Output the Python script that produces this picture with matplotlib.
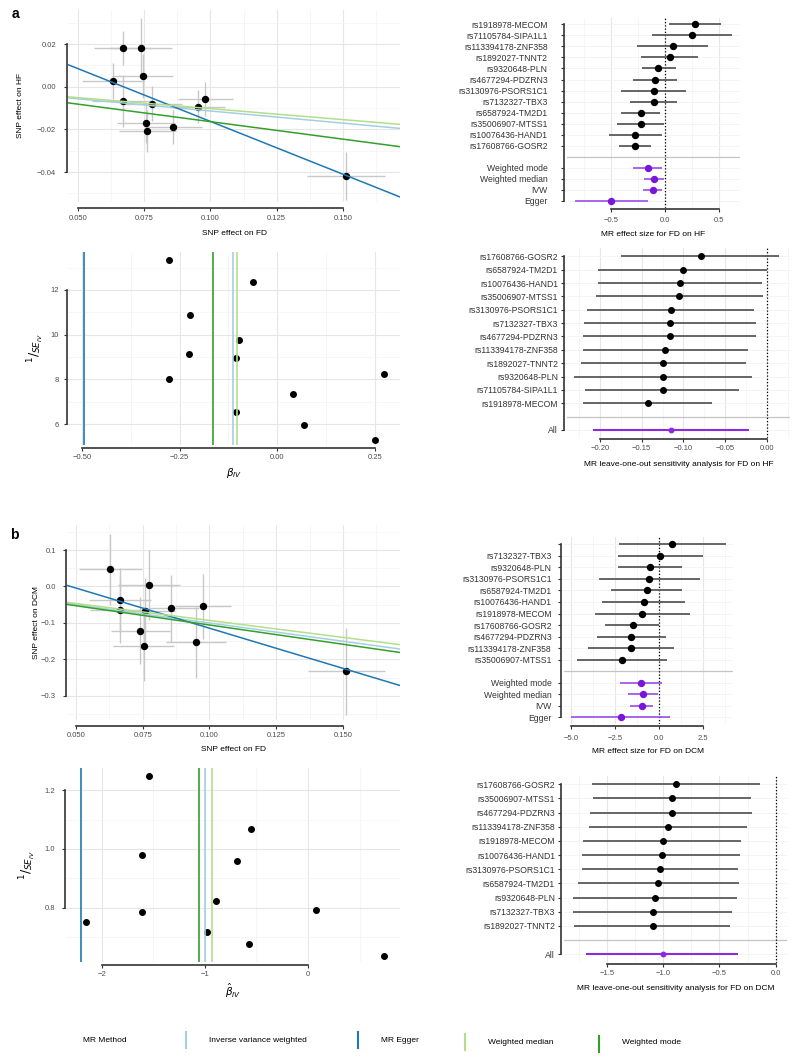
import numpy as np
import matplotlib
matplotlib.use("Agg")
import matplotlib.pyplot as plt
from matplotlib.lines import Line2D

plt.rcParams['font.family'] = ['Liberation Sans', 'DejaVu Sans']
plt.rcParams['mathtext.fontset'] = 'dejavusans'

# method colours (Paired palette)
C_IVW, C_EGG, C_WMED, C_WMODE = '#A6CEE3', '#1F78B4', '#B2DF8A', '#33A02C'
P_LINE, P_DOT = '#9B4BEA', '#7B16D9'

# ---------------- panel a : FD -> HF ----------------
fd_a = [0.0668, 0.0736, 0.0744, 0.0632, 0.0668, 0.0779, 0.0756, 0.0761, 0.0860, 0.0952, 0.0980, 0.1512]
hf_a = [0.0183, 0.0183, 0.0050, 0.0027, -0.0067, -0.0080, -0.0169, -0.0208, -0.0190, -0.0094, -0.0059, -0.0419]
fd_err_a = [0.0108, 0.0119, 0.0114, 0.0116, 0.0114, 0.0114, 0.0110, 0.0108, 0.0108, 0.0102, 0.0104, 0.0146]
hf_err_a = [0.0080, 0.0137, 0.0102, 0.0086, 0.0120, 0.0083, 0.0094, 0.0097, 0.0080, 0.0078, 0.0080, 0.0113]
slope_a = {'ivw': -0.114, 'egger': -0.495, 'wmed': -0.103, 'wmode': -0.164}
egger_int_a = 0.0332

# funnel a
biv_a = [-0.278, -0.062, -0.224, -0.099, -0.227, -0.105, -0.277, 0.272, 0.039, -0.105, 0.067, 0.250]
inv_se_a = [13.34, 12.37, 10.88, 9.78, 9.12, 8.96, 8.00, 8.22, 7.34, 6.55, 5.96, 5.28]

# forest a
snp_a = ['rs1918978-MECOM', 'rs71105784-SIPA1L1', 'rs113394178-ZNF358', 'rs1892027-TNNT2',
         'rs9320648-PLN', 'rs4677294-PDZRN3', 'rs3130976-PSORS1C1', 'rs7132327-TBX3',
         'rs6587924-TM2D1', 'rs35006907-MTSS1', 'rs10076436-HAND1', 'rs17608766-GOSR2']
est_a = [0.273, 0.252, 0.071, 0.043, -0.061, -0.095, -0.101, -0.101, -0.221, -0.224, -0.273, -0.273]
lo_a = [0.040, -0.120, -0.260, -0.224, -0.215, -0.294, -0.402, -0.322, -0.402, -0.439, -0.515, -0.420]
hi_a = [0.512, 0.620, 0.400, 0.307, 0.098, 0.107, 0.196, 0.113, -0.043, -0.009, -0.031, -0.132]
meth = ['Weighted mode', 'Weighted median', 'IVW', 'Egger']
m_est_a = [-0.160, -0.101, -0.110, -0.494]
m_lo_a = [-0.294, -0.193, -0.205, -0.834]
m_hi_a = [-0.031, -0.012, -0.025, -0.153]

# leave-one-out a
loo_snp_a = ['rs17608766-GOSR2', 'rs6587924-TM2D1', 'rs10076436-HAND1', 'rs35006907-MTSS1',
             'rs3130976-PSORS1C1', 'rs7132327-TBX3', 'rs4677294-PDZRN3', 'rs113394178-ZNF358',
             'rs1892027-TNNT2', 'rs9320648-PLN', 'rs71105784-SIPA1L1', 'rs1918978-MECOM']
loo_est_a = [-0.079, -0.100, -0.104, -0.105, -0.115, -0.116, -0.116, -0.122, -0.124, -0.124, -0.125, -0.143]
loo_lo_a = [-0.175, -0.202, -0.202, -0.205, -0.216, -0.219, -0.220, -0.220, -0.223, -0.231, -0.218, -0.220]
loo_hi_a = [0.015, 0.000, -0.006, -0.004, -0.015, -0.013, -0.013, -0.023, -0.025, -0.018, -0.033, -0.066]
all_a = (-0.115, -0.209, -0.021)

# ---------------- panel b : FD -> DCM ----------------
fd_b = [0.0629, 0.0664, 0.0664, 0.0759, 0.0775, 0.0856, 0.0975, 0.0741, 0.0753, 0.0949, 0.1512]
dcm_b = [0.047, -0.038, -0.064, -0.068, 0.0045, -0.060, -0.0545, -0.121, -0.162, -0.153, -0.232]
fd_err_b = [0.0117, 0.0117, 0.0113, 0.0113, 0.0116, 0.0106, 0.0104, 0.0110, 0.0113, 0.0113, 0.0144]
dcm_err_b = [0.098, 0.090, 0.090, 0.090, 0.096, 0.091, 0.089, 0.091, 0.097, 0.097, 0.119]
slope_b = {'ivw': -1.00, 'egger': -2.20, 'wmed': -0.93, 'wmode': -1.055}
egger_int_b = 0.1057

biv_b = [-1.542, -0.552, -1.613, -0.694, -0.894, -1.616, 0.074, -2.152, -0.977, -0.571, 0.742]
inv_se_b = [1.246, 1.069, 0.981, 0.958, 0.824, 0.788, 0.793, 0.754, 0.719, 0.677, 0.636]

snp_b = ['', 'rs7132327-TBX3', 'rs9320648-PLN', 'rs3130976-PSORS1C1', 'rs6587924-TM2D1',
         'rs10076436-HAND1', 'rs1918978-MECOM', 'rs17608766-GOSR2', 'rs4677294-PDZRN3',
         'rs113394178-ZNF358', 'rs35006907-MTSS1']
est_b = [0.75, 0.075, -0.53, -0.545, -0.68, -0.865, -0.96, -1.50, -1.58, -1.60, -2.12]
lo_b = [-2.29, -2.35, -2.35, -3.40, -2.71, -3.23, -3.65, -3.06, -3.55, -4.02, -4.68]
hi_b = [3.78, 2.52, 1.28, 2.31, 1.33, 1.47, 1.75, 0.02, 0.376, 0.846, 0.45]
m_est_b = [-1.03, -0.90, -0.96, -2.16]
m_lo_b = [-2.20, -1.77, -1.64, -4.98]
m_hi_b = [0.15, -0.04, -0.32, 0.62]

loo_snp_b = ['rs17608766-GOSR2', 'rs35006907-MTSS1', 'rs4677294-PDZRN3', 'rs113394178-ZNF358',
             'rs1918978-MECOM', 'rs10076436-HAND1', 'rs3130976-PSORS1C1', 'rs6587924-TM2D1',
             'rs9320648-PLN', 'rs7132327-TBX3', 'rs1892027-TNNT2']
loo_est_b = [-0.882, -0.920, -0.923, -0.953, -1.003, -1.012, -1.027, -1.041, -1.071, -1.092, -1.092]
loo_lo_b = [-1.627, -1.624, -1.645, -1.657, -1.707, -1.722, -1.722, -1.751, -1.799, -1.796, -1.787]
loo_hi_b = [-0.139, -0.222, -0.210, -0.257, -0.311, -0.314, -0.334, -0.328, -0.346, -0.391, -0.405]
all_b = (-1.003, -1.683, -0.331)

W, H = 800, 1063
fig = plt.figure(figsize=(W / 100, H / 100), dpi=100)


def px_axes(l, t, r, b):
    return fig.add_axes([l / W, 1 - b / H, (r - l) / W, (b - t) / H])


def fmt(v, d):
    s = f'{v:.{d}f}'
    return s.replace('-', '\u2212')


def style(ax, xt, xmin, xd, yt=None, ymin=None, yd=None, xoff=3, yoff=1, xpad=2, ypad=2):
    ax.set_xticks(xt)
    ax.set_xticks(xmin, minor=True)
    ax.set_xticklabels([fmt(v, xd) for v in xt])
    if yt is not None:
        ax.set_yticks(yt)
        ax.set_yticks(ymin, minor=True)
        ax.set_yticklabels([fmt(v, yd) for v in yt])
        ax.spines['left'].set_bounds(yt[0], yt[-1])
    ax.grid(True, which='major', color='#E6E6E6', lw=0.8)
    ax.grid(True, which='minor', color='#F3F3F3', lw=0.5)
    ax.set_axisbelow(True)
    ax.tick_params(which='minor', length=0)
    ax.tick_params(which='major', length=2.5, width=0.8, color='#333333',
                   labelsize=5.5, labelcolor='#4D4D4D')
    ax.tick_params(axis='x', pad=xpad)
    ax.tick_params(axis='y', pad=ypad)
    for s in ('top', 'right'):
        ax.spines[s].set_visible(False)
    for s in ('left', 'bottom'):
        ax.spines[s].set_linewidth(1.2)
        ax.spines[s].set_color('#333333')
    ax.spines['left'].set_position(('outward', yoff))
    ax.spines['bottom'].set_position(('outward', xoff))
    ax.spines['bottom'].set_bounds(xt[0], xt[-1])


def scatter_panel(ax, x, y, xe, ye, slopes, eint, xlim, ylim, yt, ymin, yd, ylabel,
                  xpad, ypad, xlpad, ylx):
    ax.errorbar(x, y, xerr=xe, yerr=ye, fmt='none', ecolor='#C8C8C8', elinewidth=1.0, capsize=0, zorder=2)
    ax.plot(x, y, 'o', color='black', ms=4.3, zorder=3)
    xx = np.array(xlim)
    ax.plot(xx, slopes['ivw'] * xx, color=C_IVW, lw=1.1, zorder=4)
    ax.plot(xx, eint + slopes['egger'] * xx, color=C_EGG, lw=1.1, zorder=4)
    ax.plot(xx, slopes['wmed'] * xx, color=C_WMED, lw=1.1, zorder=4)
    ax.plot(xx, slopes['wmode'] * xx, color=C_WMODE, lw=1.1, zorder=4)
    style(ax, [0.05, 0.075, 0.1, 0.125, 0.15], [0.0625, 0.0875, 0.1125, 0.1375, 0.1625], 3,
          yt, ymin, yd, xoff=4, yoff=1, xpad=xpad, ypad=ypad)
    ax.set_xlim(xlim)
    ax.set_ylim(ylim)
    ax.set_xlabel('SNP effect on FD', fontsize=6, labelpad=xlpad)
    ax.set_ylabel(ylabel, fontsize=6)
    ax.yaxis.set_label_coords(ylx, 0.5)


def funnel_panel(ax, bx, iy, slopes, xlim, ylim, xt, xmin, xd, yt, ymin, yd, xlabel,
                 xpad, ypad, xlpad, ylx):
    ax.plot(bx, iy, 'o', color='black', ms=4.0, zorder=3)
    for k, c in (('ivw', C_IVW), ('egger', C_EGG), ('wmed', C_WMED), ('wmode', C_WMODE)):
        ax.axvline(slopes[k], color=c, lw=1.2, zorder=4)
    style(ax, xt, xmin, xd, yt, ymin, yd, xoff=2, yoff=1, xpad=xpad, ypad=ypad)
    ax.set_xlim(xlim)
    ax.set_ylim(ylim)
    ax.set_xlabel(xlabel, fontsize=7.5, labelpad=xlpad)
    ax.set_ylabel(r'$^{1}/_{SE_{IV}}$', fontsize=9)
    ax.yaxis.set_label_coords(ylx, 0.5)


def forest_panel(ax, labels, est, lo, hi, mlabels, mest, mlo, mhi, xlim, xt, xmin, xd, xlabel,
                 xpad, ypad, xlpad, loo=False):
    n, m = len(labels), len(mlabels)
    total = n + 1 + m
    ys = np.arange(total, m + 1, -1)
    ym = np.arange(m, 0, -1)
    ax.axhline(m + 1, color='#C4C4C4', lw=0.9, zorder=1)
    ax.axvline(0, color='black', lw=0.9, ls=(0, (1, 1.6)), zorder=2)
    ax.hlines(ys, lo, hi, color='#5A5A5A', lw=1.3, zorder=3)
    ax.plot(est, ys, 'o', color='black', ms=4.3 if not loo else 4.0, zorder=4)
    if loo:
        ax.hlines(ym, mlo, mhi, color='#8A2BE2', lw=1.5, zorder=3)
        ax.plot(mest, ym, 'o', color='#8A2BE2', ms=3.2, zorder=4)
    else:
        ax.hlines(ym, mlo, mhi, color=P_LINE, lw=1.2, zorder=3)
        ax.plot(mest, ym, 'o', color=P_DOT, ms=4.3, zorder=4)
    style(ax, xt, xmin, xd, xoff=1, yoff=2.5, xpad=xpad, ypad=ypad)
    ax.grid(True, axis='y', which='major', color='#F2F2F2', lw=0.6)
    yt = list(ys) + list(ym)
    ax.set_yticks(yt)
    ax.set_yticklabels(list(labels) + list(mlabels), fontsize=6.2, color='#333333')
    ax.tick_params(axis='y', which='major', labelsize=6.2, labelcolor='#333333')
    ax.spines['left'].set_bounds(1, total)
    ax.set_ylim(0.4, total + 0.6)
    ax.set_xlim(xlim)
    ax.set_xlabel(xlabel, fontsize=6, labelpad=xlpad)


# ---- panel a ----
ax = px_axes(68, 10, 400, 202)
scatter_panel(ax, fd_a, hf_a, fd_err_a, hf_err_a, slope_a, egger_int_a,
              (0.04623, 0.17151), (-0.05406, 0.03594),
              [-0.04, -0.02, 0.0, 0.02], [-0.05, -0.03, -0.01, 0.01, 0.03], 2, 'SNP effect on HF',
              xpad=3, ypad=5, xlpad=5.5, ylx=-0.134)

ax = px_axes(68, 252, 400, 445)
funnel_panel(ax, biv_a, inv_se_a, slope_a, (-0.5358, 0.3140), (5.060, 13.70),
             [-0.5, -0.25, 0.0, 0.25], [-0.375, -0.125, 0.125], 2,
             [6, 8, 10, 12], [5, 7, 9, 11, 13], 0, r'$\beta_{IV}$',
             xpad=2, ypad=3, xlpad=3.5, ylx=-0.065)

ax = px_axes(567, 17.7, 740, 207.6)
forest_panel(ax, snp_a, est_a, lo_a, hi_a, meth, m_est_a, m_lo_a, m_hi_a,
             (-0.9035, 0.6911), [-0.5, 0.0, 0.5], [-0.75, -0.25, 0.25], 1,
             'MR effect size for FD on HF', xpad=3, ypad=9, xlpad=5.5)

ax = px_axes(567, 248.3, 790, 438)
forest_panel(ax, loo_snp_a, loo_est_a, loo_lo_a, loo_hi_a, ['All'], [all_a[0]], [all_a[1]], [all_a[2]],
             (-0.2396, 0.028), [-0.2, -0.15, -0.1, -0.05, 0.0], [-0.225, -0.175, -0.125, -0.075, -0.025, 0.025], 2,
             'MR leave-one-out sensitivity analysis for FD on HF', xpad=1.5, ypad=1.5, xlpad=6.5, loo=True)

# ---- panel b ----
ax = px_axes(67, 525, 400, 720)
scatter_panel(ax, fd_b, dcm_b, fd_err_b, dcm_err_b, slope_b, egger_int_b,
              (0.04663, 0.17135), (-0.3658, 0.1685),
              [-0.3, -0.2, -0.1, 0.0, 0.1], [-0.35, -0.25, -0.15, -0.05, 0.05, 0.15], 1, 'SNP effect on DCM',
              xpad=2, ypad=4.5, xlpad=5, ylx=-0.082)

ax = px_axes(66, 768, 400, 962)
funnel_panel(ax, biv_b, inv_se_b, slope_b, (-2.3495, 0.8932), (0.6169, 1.2746),
             [-2, -1, 0], [-1.5, -0.5, 0.5], 0,
             [0.8, 1.0, 1.2], [0.7, 0.9, 1.1], 1, r'$\hat{\beta}_{IV}$',
             xpad=2, ypad=4.5, xlpad=2.5, ylx=-0.085)

ax = px_axes(564, 537.4, 733, 724.2)
forest_panel(ax, snp_b, est_b, lo_b, hi_b, meth, m_est_b, m_lo_b, m_hi_b,
             (-5.397, 4.201), [-5.0, -2.5, 0.0, 2.5], [-3.75, -1.25, 1.25, 3.75], 1,
             'MR effect size for FD on DCM', xpad=4, ypad=4, xlpad=4.3)

ax = px_axes(564, 775.8, 787, 962.8)
forest_panel(ax, loo_snp_b, loo_est_b, loo_lo_b, loo_hi_b, ['All'], [all_b[0]], [all_b[1]], [all_b[2]],
             (-1.879, 0.1003), [-1.5, -1.0, -0.5, 0.0], [-1.75, -1.25, -0.75, -0.25], 1,
             'MR leave-one-out sensitivity analysis for FD on DCM', xpad=2, ypad=1.5, xlpad=5.8, loo=True)

# panel letters
fig.text(12 / W, 1 - 14 / H, 'a', fontsize=10, fontweight='bold', va='center')
fig.text(10 / W, 1 - 535 / H, 'b', fontsize=10, fontweight='bold', va='center')

# legend
fig.text(105 / W, 1 - 1041 / H, 'MR Method', fontsize=6, ha='center', va='center')
leg = [('Inverse variance weighted', C_IVW, 186, 1032, 1040),
       ('MR Egger', C_EGG, 358, 1032, 1040),
       ('Weighted median', C_WMED, 465, 1034, 1042),
       ('Weighted mode', C_WMODE, 599, 1036, 1043)]
for name, col, kx, ky, ty in leg:
    fig.add_artist(Line2D([kx / W, kx / W], [1 - ky / H, 1 - (ky + 16) / H], color=col, lw=1.5))
    fig.text((kx + 23) / W, 1 - ty / H, name, fontsize=6, ha='left', va='center')

fig.savefig('out.png', dpi=100)
